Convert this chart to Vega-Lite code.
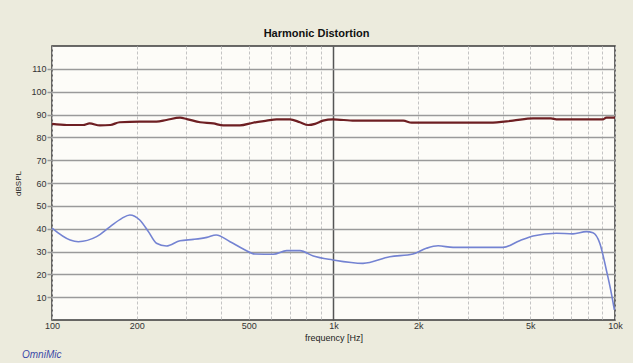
{
  "$schema": "https://vega.github.io/schema/vega-lite/v6.json",
  "width": 563,
  "height": 274,
  "autosize": {"type": "none"},
  "padding": {"left": 52, "top": 46, "right": 18, "bottom": 43},
  "background": "#ECEBDD",
  "config": {
    "font": "Liberation Sans",
    "view": {"fill": "#FDFCF8", "stroke": "#3a3a3a", "strokeWidth": 1.5}
  },
  "title": {
    "text": "Harmonic Distortion",
    "fontSize": 11,
    "fontWeight": "bold",
    "color": "#111",
    "anchor": "middle",
    "dx": -17,
    "offset": 7,
    "font": "Liberation Sans"
  },
  "resolve": {"axis": {"x": "independent", "y": "independent"}},
  "datasets": {
    "curves": [
      {"series": "fundamental", "f": 100, "db": 85.9},
      {"series": "fundamental", "f": 113, "db": 85.4},
      {"series": "fundamental", "f": 129, "db": 85.4},
      {"series": "fundamental", "f": 136, "db": 86.1},
      {"series": "fundamental", "f": 148, "db": 85.2},
      {"series": "fundamental", "f": 161, "db": 85.4},
      {"series": "fundamental", "f": 174, "db": 86.6},
      {"series": "fundamental", "f": 205, "db": 86.9},
      {"series": "fundamental", "f": 235, "db": 86.9},
      {"series": "fundamental", "f": 255, "db": 87.6},
      {"series": "fundamental", "f": 285, "db": 88.6},
      {"series": "fundamental", "f": 301, "db": 88.0},
      {"series": "fundamental", "f": 336, "db": 86.6},
      {"series": "fundamental", "f": 374, "db": 86.1},
      {"series": "fundamental", "f": 406, "db": 85.2},
      {"series": "fundamental", "f": 465, "db": 85.2},
      {"series": "fundamental", "f": 518, "db": 86.4},
      {"series": "fundamental", "f": 579, "db": 87.3},
      {"series": "fundamental", "f": 628, "db": 87.9},
      {"series": "fundamental", "f": 700, "db": 87.9},
      {"series": "fundamental", "f": 760, "db": 86.6},
      {"series": "fundamental", "f": 814, "db": 85.4},
      {"series": "fundamental", "f": 860, "db": 85.9},
      {"series": "fundamental", "f": 918, "db": 87.3},
      {"series": "fundamental", "f": 995, "db": 87.9},
      {"series": "fundamental", "f": 1189, "db": 87.3},
      {"series": "fundamental", "f": 1769, "db": 87.3},
      {"series": "fundamental", "f": 1895, "db": 86.4},
      {"series": "fundamental", "f": 3593, "db": 86.4},
      {"series": "fundamental", "f": 4340, "db": 87.3},
      {"series": "fundamental", "f": 5114, "db": 88.3},
      {"series": "fundamental", "f": 5920, "db": 88.3},
      {"series": "fundamental", "f": 6185, "db": 87.9},
      {"series": "fundamental", "f": 9080, "db": 87.9},
      {"series": "fundamental", "f": 9317, "db": 88.6},
      {"series": "fundamental", "f": 10000, "db": 88.6},
      {"series": "distortion", "f": 100, "db": 40.2},
      {"series": "distortion", "f": 116, "db": 35.0},
      {"series": "distortion", "f": 124, "db": 34.3},
      {"series": "distortion", "f": 144, "db": 36.5},
      {"series": "distortion", "f": 161, "db": 40.9},
      {"series": "distortion", "f": 177, "db": 44.5},
      {"series": "distortion", "f": 189, "db": 46.0},
      {"series": "distortion", "f": 205, "db": 43.8},
      {"series": "distortion", "f": 220, "db": 38.7},
      {"series": "distortion", "f": 235, "db": 33.6},
      {"series": "distortion", "f": 255, "db": 32.4},
      {"series": "distortion", "f": 285, "db": 34.7},
      {"series": "distortion", "f": 318, "db": 35.3},
      {"series": "distortion", "f": 355, "db": 36.2},
      {"series": "distortion", "f": 383, "db": 37.2},
      {"series": "distortion", "f": 429, "db": 34.3},
      {"series": "distortion", "f": 478, "db": 31.1},
      {"series": "distortion", "f": 526, "db": 28.9},
      {"series": "distortion", "f": 611, "db": 28.8},
      {"series": "distortion", "f": 682, "db": 30.4},
      {"series": "distortion", "f": 760, "db": 30.4},
      {"series": "distortion", "f": 848, "db": 28.0},
      {"series": "distortion", "f": 995, "db": 26.3},
      {"series": "distortion", "f": 1273, "db": 24.8},
      {"series": "distortion", "f": 1585, "db": 27.7},
      {"series": "distortion", "f": 1915, "db": 28.9},
      {"series": "distortion", "f": 2137, "db": 31.4},
      {"series": "distortion", "f": 2352, "db": 32.5},
      {"series": "distortion", "f": 2660, "db": 31.8},
      {"series": "distortion", "f": 4003, "db": 31.8},
      {"series": "distortion", "f": 4585, "db": 34.7},
      {"series": "distortion", "f": 5114, "db": 36.8},
      {"series": "distortion", "f": 6185, "db": 38.0},
      {"series": "distortion", "f": 7091, "db": 37.7},
      {"series": "distortion", "f": 7907, "db": 38.7},
      {"series": "distortion", "f": 8350, "db": 38.2},
      {"series": "distortion", "f": 8830, "db": 33.6},
      {"series": "distortion", "f": 9317, "db": 21.9},
      {"series": "distortion", "f": 9707, "db": 11.7},
      {"series": "distortion", "f": 9950, "db": 4.4}
    ],
    "brand": [{"label": "OmniMic"}]
  },
  "layer": [
    {
      "data": {"name": "curves"},
      "mark": {"type": "line", "interpolate": "monotone"},
      "encoding": {
        "x": {
          "field": "f",
          "type": "quantitative",
          "scale": {"type": "log", "domain": [100, 10000], "nice": false},
          "axis": {
            "title": "frequency [Hz]",
            "titleFontSize": 9,
            "titleFontWeight": "normal",
            "titleColor": "#222",
            "titlePadding": 3,
            "values": [100, 200, 300, 400, 500, 600, 700, 800, 900, 1000, 2000, 3000, 4000, 5000, 6000, 7000, 8000, 9000, 10000],
            "labelExpr": "indexof([100,200,500,1000,2000,5000,10000], datum.value) >= 0 ? (datum.value >= 1000 ? (datum.value/1000) + 'k' : datum.value + '') : ''",
            "labelOverlap": false,
            "labelFlush": false,
            "labelFontSize": 9,
            "labelColor": "#333",
            "labelPadding": 1,
            "ticks": false,
            "domain": false,
            "grid": true,
            "gridColor": {"condition": {"test": "datum.value == 1000", "value": "#555"}, "value": "#c4c4c4"},
            "gridDash": {"condition": {"test": "datum.value == 1000", "value": []}, "value": [3, 2]},
            "gridWidth": {"condition": {"test": "datum.value == 1000", "value": 1.5}, "value": 1}
          }
        },
        "y": {
          "field": "db",
          "type": "quantitative",
          "scale": {"domain": [0, 120], "nice": false},
          "axis": {
            "title": "dBSPL",
            "titleFontSize": 8,
            "titleFontWeight": "normal",
            "titleColor": "#222",
            "titlePadding": 8,
            "values": [10, 20, 30, 40, 50, 60, 70, 80, 90, 100, 110],
            "labelOverlap": false,
            "labelFontSize": 9,
            "labelColor": "#333",
            "labelPadding": 1,
            "tickSize": 5,
            "tickColor": "#999",
            "tickWidth": 1.5,
            "domain": false,
            "grid": true,
            "gridColor": "#9a9a9a",
            "gridWidth": 1.5
          }
        },
        "detail": {"field": "series"},
        "color": {
          "field": "series",
          "type": "nominal",
          "scale": {"domain": ["fundamental", "distortion"], "range": ["#6E1F22", "#7483D2"]},
          "legend": null
        },
        "strokeWidth": {
          "field": "series",
          "type": "nominal",
          "scale": {"domain": ["fundamental", "distortion"], "range": [2.2, 1.6]},
          "legend": null
        }
      }
    },
    {
      "data": {"name": "brand"},
      "mark": {
        "type": "text",
        "align": "left",
        "baseline": "middle",
        "fontStyle": "italic",
        "fontSize": 10,
        "color": "#3b49a8",
        "dx": -30,
        "dy": 35
      },
      "encoding": {
        "x": {"datum": 100, "type": "quantitative", "axis": null},
        "y": {"datum": 0, "type": "quantitative", "axis": null},
        "text": {"field": "label", "type": "nominal"}
      }
    }
  ]
}
